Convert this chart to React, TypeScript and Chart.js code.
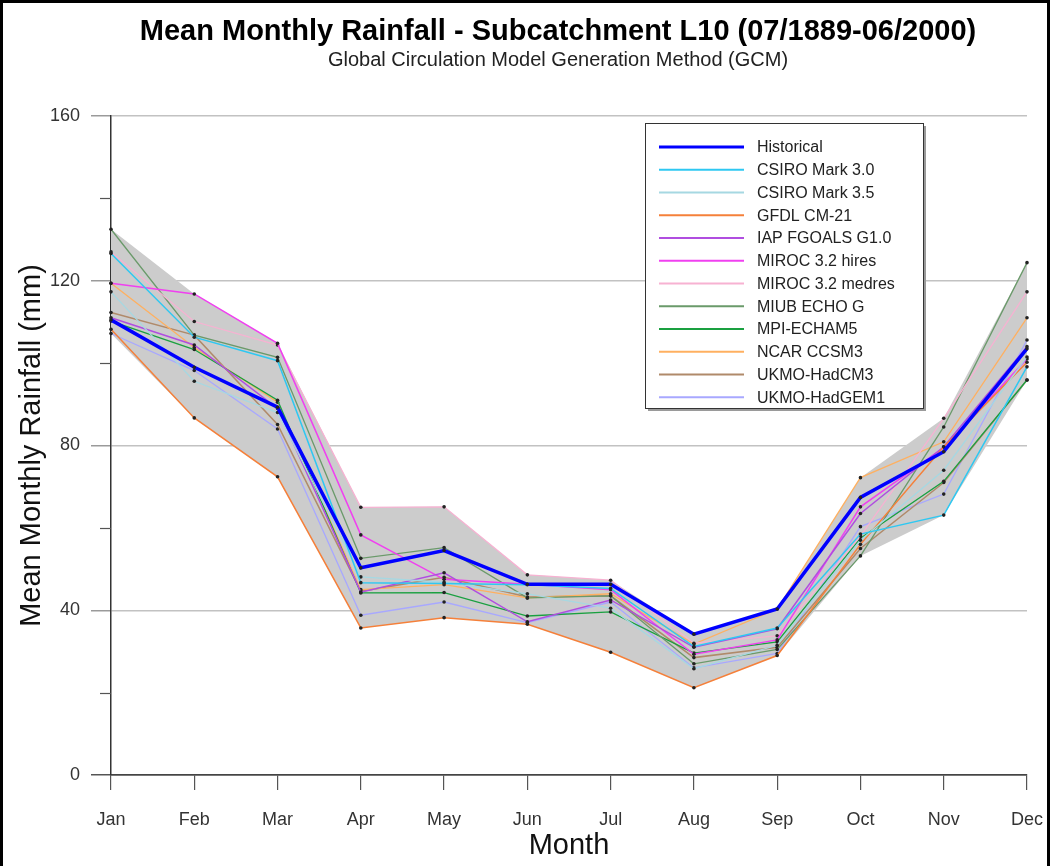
import React, { useEffect, useRef } from "react";
import { Chart, registerables } from "chart.js";

Chart.register(...registerables);

const months = ["Jan", "Feb", "Mar", "Apr", "May", "Jun", "Jul", "Aug", "Sep", "Oct", "Nov", "Dec"];

const historical = [110.5, 99.0, 89.3, 50.3, 54.5, 46.3, 46.3, 34.2, 40.3, 67.4, 78.5, 103.5];
const csiro30 = [126.6, 106.3, 100.6, 46.7, 46.5, 46.2, 45.3, 31.2, 35.7, 58.5, 63.1, 99.1];
const csiro35 = [117.3, 95.6, 88.0, 48.1, 46.8, 44.0, 40.5, 25.8, 31.5, 57.0, 74.0, 101.5];
const gfdl = [108.2, 86.7, 72.4, 35.7, 38.2, 36.6, 29.8, 21.2, 29.0, 56.0, 79.7, 100.2];
const iap = [111.0, 104.4, 89.0, 44.4, 49.1, 37.2, 42.5, 31.0, 35.5, 63.5, 79.7, 104.0];
const mirocHires = [119.4, 116.8, 104.8, 58.3, 47.5, 46.3, 45.0, 29.3, 32.8, 65.1, 79.5, 101.0];
const mirocMedres = [127.0, 110.1, 104.4, 65.0, 65.1, 48.6, 47.3, 32.0, 33.8, 58.0, 86.6, 117.3];
const miub = [132.5, 106.8, 101.4, 52.6, 55.2, 43.0, 43.5, 27.0, 30.5, 53.2, 84.5, 124.4];
const mpi = [110.2, 103.3, 91.0, 44.2, 44.3, 38.6, 39.6, 29.6, 32.3, 57.5, 71.3, 95.9];
const ncar = [119.4, 103.8, 90.5, 45.0, 46.2, 43.0, 44.0, 31.8, 40.3, 72.2, 80.9, 111.0];
const hadcm3 = [112.3, 106.8, 85.1, 44.6, 48.0, 43.2, 43.5, 28.5, 31.0, 55.0, 71.0, 95.9];
const hadgem1 = [107.2, 98.2, 84.0, 38.8, 42.0, 37.0, 42.0, 26.0, 29.5, 60.3, 68.2, 105.6];

const yTicks = [0, 40, 80, 120, 160];
const yMinorTicks = [20, 60, 100, 140];

const titleText = "Mean Monthly Rainfall - Subcatchment L10 (07/1889-06/2000)";
const subtitleText = "Global Circulation Model Generation Method (GCM)";
const xTitle = "Month";
const yTitle = "Mean Monthly Rainfall (mm)";

const series = [
  { label: "Historical", data: historical, color: "#0000ff", width: 3.5 },
  { label: "CSIRO Mark 3.0", data: csiro30, color: "#2ec8f2", width: 1.5 },
  { label: "CSIRO Mark 3.5", data: csiro35, color: "#a6d8e2", width: 1.3 },
  { label: "GFDL CM-21", data: gfdl, color: "#f5803a", width: 1.5 },
  { label: "IAP FGOALS G1.0", data: iap, color: "#b04ee0", width: 1.5 },
  { label: "MIROC 3.2 hires", data: mirocHires, color: "#f040f0", width: 1.5 },
  { label: "MIROC 3.2 medres", data: mirocMedres, color: "#f7b2d2", width: 1.3 },
  { label: "MIUB ECHO G", data: miub, color: "#6a9a6a", width: 1.3 },
  { label: "MPI-ECHAM5", data: mpi, color: "#1aa040", width: 1.3 },
  { label: "NCAR CCSM3", data: ncar, color: "#ffb060", width: 1.3 },
  { label: "UKMO-HadCM3", data: hadcm3, color: "#b08a6a", width: 1.5 },
  { label: "UKMO-HadGEM1", data: hadgem1, color: "#a8a8ff", width: 1.3 },
];

const FONT = "'Liberation Sans', Arial, sans-serif";

const decorPlugin = {
  id: "decor",
  beforeDraw(chart: any) {
    const { ctx, width, height } = chart;
    ctx.save();
    ctx.fillStyle = "#ffffff";
    ctx.fillRect(0, 0, width, height);
    ctx.restore();
  },
  afterDraw(chart: any) {
    const { ctx, chartArea } = chart;
    const ys = chart.scales.y;
    ctx.save();
    // titles
    ctx.fillStyle = "#000";
    ctx.textAlign = "center";
    ctx.textBaseline = "middle";
    ctx.font = `bold 29px ${FONT}`;
    ctx.fillText(titleText, 558, 32);
    ctx.font = `20px ${FONT}`;
    ctx.fillStyle = "#222";
    ctx.fillText(subtitleText, 558, 60);
    // axis titles
    ctx.font = `29px ${FONT}`;
    ctx.fillStyle = "#111";
    ctx.fillText(xTitle, (chartArea.left + chartArea.right) / 2, 846);
    ctx.save();
    ctx.translate(32, (chartArea.top + chartArea.bottom) / 2);
    ctx.rotate(-Math.PI / 2);
    ctx.fillText(yTitle, 0, 0);
    ctx.restore();
    // minor ticks
    ctx.strokeStyle = "#555";
    ctx.lineWidth = 1.2;
    yMinorTicks.forEach((v) => {
      const y = Math.round(ys.getPixelForValue(v)) + 0.5;
      ctx.beginPath();
      ctx.moveTo(chartArea.left - 11, y);
      ctx.lineTo(chartArea.left, y);
      ctx.stroke();
    });
    // legend
    const lx = 645, ly = 123, lw = 278, lh = 285;
    ctx.fillStyle = "#9a9a9a";
    ctx.fillRect(lx + 3, ly + 3, lw, lh);
    ctx.fillStyle = "#fff";
    ctx.fillRect(lx, ly, lw, lh);
    ctx.strokeStyle = "#333";
    ctx.lineWidth = 1;
    ctx.strokeRect(lx + 0.5, ly + 0.5, lw, lh);
    ctx.font = `16px ${FONT}`;
    ctx.textAlign = "left";
    ctx.textBaseline = "middle";
    series.forEach((s, i) => {
      const y = 147 + i * 22.75;
      ctx.strokeStyle = s.color;
      ctx.lineWidth = i === 0 ? 3 : 2;
      ctx.beginPath();
      ctx.moveTo(659, y);
      ctx.lineTo(744, y);
      ctx.stroke();
      ctx.fillStyle = "#222";
      ctx.fillText(s.label, 757, y + 1);
    });
    // frame
    ctx.strokeStyle = "#000";
    ctx.lineWidth = 3;
    ctx.strokeRect(1.5, 1.5, 1047, 900);
    ctx.restore();
  },
};

export default function App() {
  const ref = useRef<HTMLCanvasElement | null>(null);
  useEffect(() => {
    if (!ref.current) return;
    const all = series.map((s) => s.data);
    const upper = months.map((_, i) => Math.max(...all.map((a) => a[i])));
    const lower = months.map((_, i) => Math.min(...all.map((a) => a[i])));
    const datasets: any[] = [
      {
        label: "_upper",
        data: upper,
        borderColor: "rgba(0,0,0,0)",
        borderWidth: 0,
        pointRadius: 0,
        fill: false,
        order: 100,
      },
      {
        label: "_lower",
        data: lower,
        borderColor: "rgba(0,0,0,0)",
        borderWidth: 0,
        pointRadius: 0,
        backgroundColor: "#cccccc",
        fill: "-1",
        order: 99,
      },
    ];
    series.forEach((s, i) => {
      datasets.push({
        label: s.label,
        data: s.data,
        borderColor: s.color,
        borderWidth: s.width,
        pointRadius: 1.8,
        pointBackgroundColor: "#222",
        pointBorderWidth: 0,
        tension: 0,
        fill: false,
        order: i,
      });
    });
    const chart = new Chart(ref.current, {
      type: "line",
      data: { labels: months, datasets },
      plugins: [decorPlugin],
      options: {
        responsive: false,
        animation: false,
        layout: { padding: { top: 116, right: 24, left: 0, bottom: 0 } },
        plugins: {
          legend: { display: false },
          tooltip: { enabled: false },
          title: { display: false },
        },
        scales: {
          x: {
            type: "category",
            offset: false,
            afterFit: (s: any) => {
              s.height = 91;
              s.paddingLeft = 0;
              s.paddingRight = 0;
            },
            grid: {
              drawOnChartArea: false,
              drawTicks: true,
              tickLength: 15,
              tickColor: "#555",
              lineWidth: 1.2,
            },
            border: { color: "#444", width: 1.5 },
            ticks: {
              color: "#333",
              font: { family: FONT, size: 18 },
              padding: 19,
              maxRotation: 0,
              autoSkip: false,
            },
          },
          y: {
            min: 0,
            max: 160,
            afterFit: (s: any) => {
              s.width = 111;
              s.paddingTop = 0;
              s.paddingBottom = 0;
            },
            afterBuildTicks: (s: any) => {
              s.ticks = [...yTicks, ...yMinorTicks].sort((a, b) => a - b).map((v) => ({ value: v }));
            },
            grid: {
              color: (c: any) => {
                const v = c.tick ? c.tick.value : 0;
                if (v === 0) return "#555";
                return yTicks.includes(v) ? "#c2c2c2" : "rgba(0,0,0,0)";
              },
              tickColor: (c: any) => {
                const v = c.tick ? c.tick.value : 0;
                if (v === 0) return "#555";
                return yTicks.includes(v) ? "#9a9a9a" : "rgba(0,0,0,0)";
              },
              lineWidth: 1.5,
              tickLength: 20,
            },
            border: { color: "#333", width: 1.5 },
            ticks: {
              color: "#333",
              font: { family: FONT, size: 18 },
              padding: 11,
              callback: (v: any) => (yTicks.includes(Number(v)) ? String(v) : ""),
            },
          },
        },
      },
    });
    return () => chart.destroy();
  }, []);
  return (
    <div style={{ position: "fixed", left: 0, top: 0, width: 1051, height: 866, background: "#fff" }}>
      <canvas ref={ref} width={1051} height={866} style={{ display: "block" }} />
    </div>
  );
}
